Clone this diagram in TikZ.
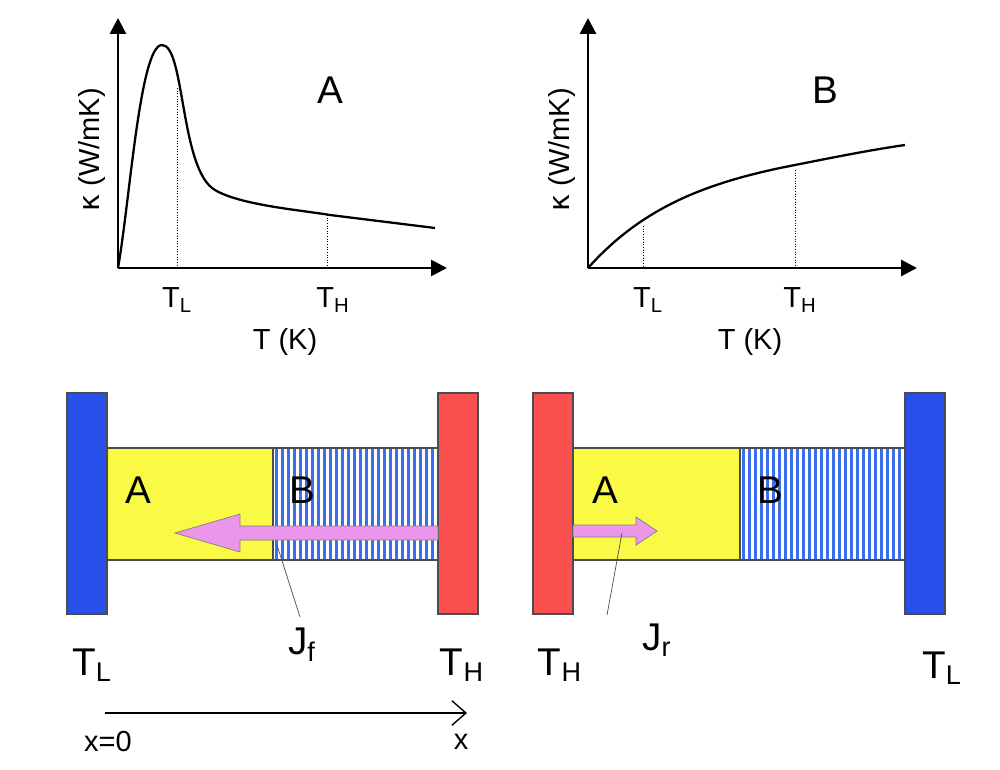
\documentclass[tikz,border=0pt]{standalone}
\usepackage{fontspec}
\setmainfont{Liberation Sans}
\newfontfamily\djv{DejaVu Sans}
\definecolor{pblue}{RGB}{40,80,235}
\definecolor{pred}{RGB}{250,80,80}
\definecolor{pyel}{RGB}{250,250,70}
\definecolor{ppink}{RGB}{235,150,235}
\definecolor{sblue}{RGB}{60,110,235}
\begin{document}
\begin{tikzpicture}[x=0.02cm,y=-0.02cm,
  ax/.style={line width=1.6pt,-{Triangle[length=9pt,width=9pt]}},
  crv/.style={line width=1.3pt},
  dot/.style={densely dotted,line width=0.5pt},
  lbl/.style={font=\fontsize{16.5}{16}\selectfont},
  big/.style={font=\fontsize{22}{22}\selectfont},
  plate/.style={draw=black!70,line width=0.6pt},
  bar/.style={draw=black!70,line width=0.6pt}]
\useasboundingbox (0,0) rectangle (1000,770);
\usetikzlibrary{arrows.meta}
% --- plot A
\coordinate (oa) at (118,268);
\draw[ax] (oa) -- (118,18);
\draw[ax] (oa) -- (447,268);
\draw[crv] (oa) .. controls (130,200) and (140,45) .. (162,45)
  .. controls (185,45) and (180,170) .. (215,190)
  .. controls (240,205) and (300,210) .. (330,215)
  -- (435,228);
\draw[dot] (177,88) -- (177,268);
\draw[dot] (327,215) -- (327,268);
\node[lbl] (tla) at (177,300) {T\textsubscript{L}};
\node[lbl] (tha) at (333,300) {T\textsubscript{H}};
\node[lbl] (tka) at (285,342) {T (K)};
\node[lbl,rotate=90] (ka) at (92,150) {{\djv κ} (W/mK)};
\node[big] (la) at (330,90) {A};
% --- plot B
\coordinate (ob) at (588,268);
\draw[ax] (ob) -- (588,18);
\draw[ax] (ob) -- (917,268);
\draw[crv] (ob) .. controls (640,210) and (700,185) .. (780,168) .. controls (830,158) and (870,150) .. (905,145);
\draw[dot] (643,226) -- (643,268);
\draw[dot] (795,170) -- (795,268);
\node[lbl] (tlb) at (648,300) {T\textsubscript{L}};
\node[lbl] (thb) at (800,300) {T\textsubscript{H}};
\node[lbl] (tkb) at (750,342) {T (K)};
\node[lbl,rotate=90] (kb) at (562,150) {{\djv κ} (W/mK)};
\node[big] (lb) at (825,90) {B};
% --- bottom left
\fill[pyel] (107,448) rectangle (273,560);
\fill[white] (273,448) rectangle (438,560);
\foreach \i in {0,...,27} \fill[sblue] (275+\i*6,448) rectangle (278+\i*6,560);
\draw[bar] (107,448) rectangle (438,560);
\draw[bar] (273,448) -- (273,560);
\draw[plate,fill=pblue] (67,393) rectangle (107,614);
\draw[plate,fill=pred] (438,393) rectangle (478,614);
\draw[fill=ppink,draw=black!50,line width=0.4pt] (438,526) -- (240,526) -- (240,514) -- (175,533) -- (240,552) -- (240,540) -- (438,540) -- cycle;
\coordinate (jf0) at (277,545);
\node[big] (jf) at (302,645) {J\textsubscript{f}};
\draw[line width=0.4pt,black!70] (jf0) -- (300,617);
\node[big] (tl1) at (92,665) {T\textsubscript{L}};
\node[big] (th1) at (462,665) {T\textsubscript{H}};
\node[lbl] (x0) at (108,742) {x=0};
\node[lbl] (xx) at (461,742) {x};
\coordinate (xs) at (105,713);
\coordinate (xe) at (467,713);
\draw[line width=0.8pt,-{Straight Barb[length=8pt,width=14pt]}] (xs) -- (xe);
% --- bottom right
\fill[pyel] (573,448) rectangle (740,560);
\fill[white] (740,448) rectangle (905,560);
\foreach \i in {0,...,27} \fill[sblue] (742+\i*6,448) rectangle (745+\i*6,560);
\draw[bar] (573,448) rectangle (905,560);
\draw[bar] (740,448) -- (740,560);
\draw[plate,fill=pred] (533,393) rectangle (573,614);
\draw[plate,fill=pblue] (905,393) rectangle (945,614);
\draw[fill=ppink,draw=black!50,line width=0.4pt] (573,525) -- (636,525) -- (636,517) -- (657,531) -- (636,545) -- (636,537) -- (573,537) -- cycle;
\coordinate (jr0) at (622,533);
\node[big] (jr) at (657,640) {J\textsubscript{r}};
\draw[line width=0.4pt,black!70] (jr0) -- (607,615);
\node[big] (th2) at (560,665) {T\textsubscript{H}};
\node[big] (tl2) at (942,668) {T\textsubscript{L}};
\node[big] (a1) at (138,490) {A};
\node[big] (b1) at (302,490) {B};
\node[big] (a2) at (605,490) {A};
\node[big] (b2) at (770,490) {B};
\end{tikzpicture}
\end{document}
